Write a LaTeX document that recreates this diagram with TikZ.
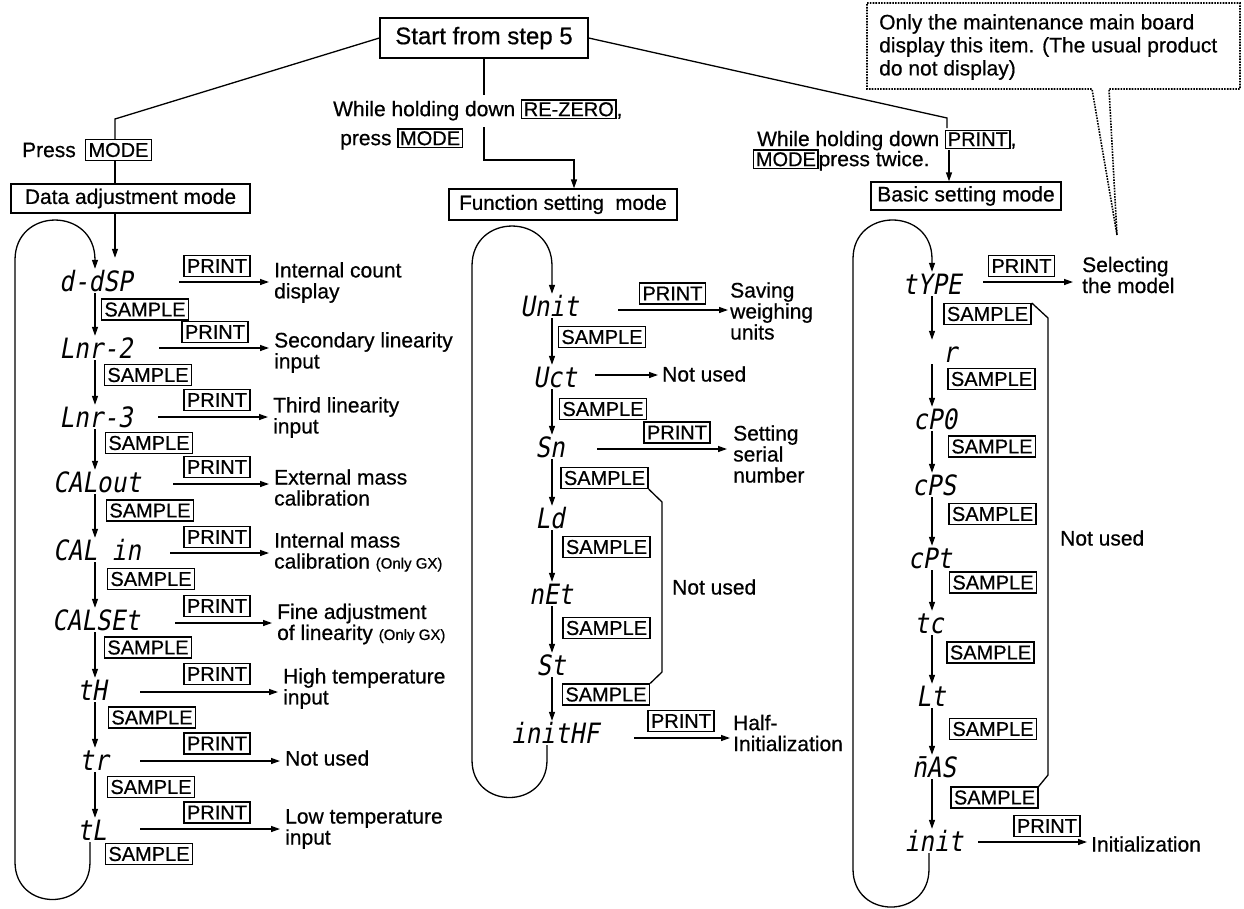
\documentclass[tikz,border=0pt]{standalone}
\usepackage{fontspec}
\setmainfont[FakeBold=0.6]{Liberation Sans}
\newfontfamily\segfont[FakeSlant=0.18,FakeStretch=0.87]{DejaVu Sans Mono}
\usetikzlibrary{arrows.meta}
\newcommand\kbox[1]{{\fboxsep=1.5pt\fboxrule=1.2pt\fbox{\fontsize{20}{20}\selectfont #1}}}
\begin{document}
\begin{tikzpicture}[x=1pt,y=-1pt,
  lab/.style={font=\fontsize{21}{21}\selectfont, inner sep=0pt, align=left, anchor=west},
  key/.style={draw, line width=1.2pt, font=\fontsize{20}{20}\selectfont, inner xsep=3pt, inner ysep=0pt, minimum height=21pt},
  modebox/.style={draw, line width=1.3pt, font=\fontsize{21}{21}\selectfont, inner sep=0pt},
  seg/.style={font=\segfont\fontsize{28}{28}\selectfont, inner xsep=0pt, inner ysep=2pt, text height=20pt, text depth=0pt},
  ln/.style={line width=1.3pt},
  arr/.style={line width=1.3pt, -{Triangle[length=9pt,width=6pt]}},
  small/.style={font=\fontsize{15}{15}\selectfont}]
\useasboundingbox (0,0) rectangle (1244,908);
\fill[white] (0,0) rectangle (1244,908);

% ---------- top part ----------
\node[modebox, font=\fontsize{24}{24}\selectfont, minimum width=208pt, minimum height=40pt] (start) at (484,38) {Start from step 5};

\node[lab, anchor=east] (press) at (76,150) {Press};
\node[key] (pm) at (118.5,150) {MODE};
\node[modebox, minimum width=239pt, minimum height=29pt] (dmode) at (130.5,198.5) {Data adjustment mode};

\node[lab] (mid1) at (333,110) {While holding down \kbox{RE-ZERO},};
\node[lab] (mid2) at (340,139) {press \kbox{MODE}};
\node[modebox, font=\fontsize{20.5}{21}\selectfont, minimum width=228pt, minimum height=31pt] (fmode) at (563,204.5) {Function setting\ \ mode};

\node[lab] (rt1) at (757,140) {While holding down \kbox{PRINT},};
\node[lab] (rt2) at (753,160) {\kbox{MODE}press twice.};
\node[modebox, minimum width=190pt, minimum height=28pt] (bmode) at (966,196) {Basic setting mode};

\coordinate (xa1) at (115,0);
\coordinate (xc1) at (95,0);
\coordinate (xl1r) at (90,0);
\coordinate (xf) at (574,0);
\coordinate (xc2) at (552,0);
\coordinate (xl2r) at (547,0);
\coordinate (xc3) at (932,0);
\coordinate (xl3r) at (929,0);
\coordinate (m1) at (484,95);
\coordinate (m2) at (484,127);
\coordinate (r1) at (947,128);
\coordinate (r2) at (949,150);

\draw[ln] (start.west) -- (115,119) -- (pm.north -| xa1);
\draw[ln] (pm.south -| xa1) -- (dmode.north -| xa1);
\draw[ln] (start.south -| m1) -- (m1);
\draw[arr] (m2) -- (484,160) -- (574,160) -- (fmode.north -| xf);
\draw[ln] (start.east) -- (947,118) -- (r1);
\draw[arr] (r2) -- (bmode.north -| r2);

% ---------- callout ----------
\draw[line width=1.6pt, dash pattern=on 1.6pt off 1.2pt] (1117,235) -- (1092,89) -- (867,89) -- (867,3) -- (1240,3) -- (1240,89) -- (1109,89) -- cycle;
\node[lab, anchor=north west, font=\fontsize{21}{23}\selectfont] (note) at (879,14) {Only the maintenance main board\\display this item. (The usual product\\do not display)};

% ---------- column 1 ----------
\node[seg] (dd) at (96,281) {d-dSP};
\node[seg] (n2) at (96,348) {Lnr-2};
\node[seg] (n3) at (96,417) {Lnr-3};
\node[seg] (co) at (97,482) {CALout};
\node[seg] (ci) at (97,550) {CAL in};
\node[seg] (cs) at (96,620) {CALSEt};
\node[seg] (th) at (92,690) {tH};
\node[seg] (tr) at (94,760) {tr};
\node[seg] (tl) at (92,830) {tL};

\node[key] (p11) at (217,266) {PRINT};
\node[key] (p12) at (215,332) {PRINT};
\node[key] (p13) at (217,400) {PRINT};
\node[key] (p14) at (217,467) {PRINT};
\node[key] (p15) at (217,537) {PRINT};
\node[key] (p16) at (217,606) {PRINT};
\node[key] (p17) at (217,674) {PRINT};
\node[key] (p18) at (217,743.5) {PRINT};
\node[key] (p19) at (217,812.5) {PRINT};

\node[key] (s11) at (145,309.5) {SAMPLE};
\node[key] (s12) at (148,375) {SAMPLE};
\node[key] (s13) at (149,443) {SAMPLE};
\node[key] (s14) at (150,510.5) {SAMPLE};
\node[key] (s15) at (151,579) {SAMPLE};
\node[key] (s16) at (148,647.5) {SAMPLE};
\node[key] (s17) at (152,717.5) {SAMPLE};
\node[key] (s18) at (151,787) {SAMPLE};
\node[key] (s19) at (149,854) {SAMPLE};

\node[lab] (l11) at (274,282.5) {Internal count\\display};
\node[lab] (l12) at (274,352.5) {Secondary linearity\\input};
\node[lab] (l13) at (273,417.5) {Third linearity\\input};
\node[lab] (l14) at (274,487.5) {External mass\\calibration};
\node[lab] (l15) at (274,552) {Internal mass\\calibration {\fontsize{15}{15}\selectfont (Only GX)}};
\node[lab] (l16) at (277,624) {Fine adjustment\\of linearity {\fontsize{15}{15}\selectfont (Only GX)}};
\node[lab] (l17) at (283,688.5) {High temperature\\input};
\node[lab] (l18) at (285,758) {Not used};
\node[lab] (l19) at (285,829) {Low temperature\\input};

\coordinate (a11) at (179,282);
\coordinate (a12) at (159,348);
\coordinate (a13) at (158,417);
\coordinate (a14) at (173,484);
\coordinate (a15) at (170,553);
\coordinate (a16) at (175,623);
\coordinate (a17) at (140,692);
\coordinate (a18) at (140,761);
\coordinate (a19) at (140,829);
\foreach \i in {11,...,19}{
  \draw[arr, shorten >=5pt] (a\i) -- (a\i -| l\i.west);
}

\draw[arr] (dd.south -| xc1) -- (n2.north -| xc1);
\draw[arr] (n2.south -| xc1) -- (n3.north -| xc1);
\draw[arr] (n3.south -| xc1) -- (co.north -| xc1);
\draw[arr] (co.south -| xc1) -- (ci.north -| xc1);
\draw[arr] (ci.south -| xc1) -- (cs.north -| xc1);
\draw[arr] (cs.south -| xc1) -- (th.north -| xc1);
\draw[arr] (th.south -| xc1) -- (tr.north -| xc1);
\draw[arr] (tr.south -| xc1) -- (tl.north -| xc1);
\draw[arr, shorten >=11pt] (dmode.south -| xa1) -- (dd.north -| xa1);
\draw[arr] (tl.south -| xl1r) -- (90,862) .. controls (90,912) and (15,912) .. (15,862)
  -- (15,260) .. controls (15,206.7) and (95,206.7) .. (95,260) -- (dd.north -| xc1);

% ---------- column 2 ----------
\node[seg] (unit) at (549.5,306) {Unit};
\node[seg] (uct) at (555,377) {Uct};
\node[seg] (sn) at (550,447) {Sn};
\node[seg] (ld) at (550,518) {Ld};
\node[seg] (net) at (551,594) {nEt};
\node[seg] (st) at (551,665) {St};
\node[seg] (ihf) at (555,733) {initHF};

\node[key] (p21) at (672.5,293.5) {PRINT};
\node[key] (p23) at (677,432.5) {PRINT};
\node[key] (p27) at (681,721) {PRINT};

\node[key] (s21) at (602,337) {SAMPLE};
\node[key] (s22) at (603,409) {SAMPLE};
\node[key] (s23) at (604.5,478) {SAMPLE};
\node[key] (s24) at (606.5,547) {SAMPLE};
\node[key] (s25) at (606.5,628) {SAMPLE};
\node[key] (s26) at (606,694.5) {SAMPLE};

\node[lab] (l21) at (730,311) {Saving\\weighing\\units};
\node[lab] (l22) at (662,374) {Not used};
\node[lab] (l23) at (733,454) {Setting\\serial\\number};
\node[lab] (l27) at (733,733) {Half-\\Initialization};
\node[lab] (l2n) at (672,587) {Not used};

\coordinate (a21) at (618,310);
\coordinate (a22) at (595,375);
\coordinate (a23) at (597,449);
\coordinate (a27) at (634,738);
\draw[arr, shorten >=2pt] (a21) -- (a21 -| l21.west);
\draw[arr, shorten >=4pt] (a22) -- (a22 -| l22.west);
\draw[arr, shorten >=6pt] (a23) -- (a23 -| l23.west);
\draw[arr, shorten >=3pt] (a27) -- (a27 -| l27.west);

\draw[arr] (unit.south -| xc2) -- (uct.north -| xc2);
\draw[arr] (uct.south -| xc2) -- (sn.north -| xc2);
\draw[arr] (sn.south -| xc2) -- (ld.north -| xc2);
\draw[arr] (ld.south -| xc2) -- (net.north -| xc2);
\draw[arr] (net.south -| xc2) -- (st.north -| xc2);
\draw[arr] (st.south -| xc2) -- (ihf.north -| xc2);
\draw[ln] (s23.south east) -- (662,502) -- (662,672) -- (s26.north east);
\draw[arr] (ihf.south -| xl2r) -- (547,760) .. controls (547,810) and (472,810) .. (472,760)
  -- (472,266) .. controls (472,212.7) and (552,212.7) .. (552,266) -- (unit.north -| xc2);

% ---------- column 3 ----------
\node[seg] (type) at (932,284) {tYPE};
\node[seg] (rr) at (950,352) {r};
\node[seg] (cp0) at (935,419) {cP0};
\node[seg] (cps) at (934,485) {cPS};
\node[seg] (cpt) at (930,558) {cPt};
\node[seg] (tc) at (929,623) {tc};
\node[seg] (lt) at (931,696) {Lt};
\node[seg] (mas) at (934,767) {\={n}AS};
\node[seg] (init) at (934,841) {init};

\node[key] (p31) at (1021.5,266) {PRINT};
\node[key] (p39) at (1047,826) {PRINT};

\node[key] (s31) at (987.5,314) {SAMPLE};
\node[key] (s32) at (991.5,379) {SAMPLE};
\node[key] (s33) at (992,446.5) {SAMPLE};
\node[key] (s34) at (992.5,514) {SAMPLE};
\node[key] (s35) at (993,582.5) {SAMPLE};
\node[key] (s36) at (990.5,652.5) {SAMPLE};
\node[key] (s37) at (993,729) {SAMPLE};
\node[key] (s38) at (994.5,797.5) {SAMPLE};

\node[lab] (l31) at (1082,275) {Selecting\\the model};
\node[lab] (l3n) at (1060,538) {Not used};
\node[lab] (l39) at (1091,844) {Initialization};

\coordinate (a31) at (983,282);
\coordinate (a39) at (978,842);
\draw[arr, shorten >=9pt] (a31) -- (a31 -| l31.west);
\draw[arr, shorten >=4pt] (a39) -- (a39 -| l39.west);

\draw[arr] (type.south -| xc3) -- (rr.north -| xc3);
\draw[arr] (rr.south -| xc3) -- (cp0.north -| xc3);
\draw[arr] (cp0.south -| xc3) -- (cps.north -| xc3);
\draw[arr] (cps.south -| xc3) -- (cpt.north -| xc3);
\draw[arr] (cpt.south -| xc3) -- (tc.north -| xc3);
\draw[arr] (tc.south -| xc3) -- (lt.north -| xc3);
\draw[arr] (lt.south -| xc3) -- (mas.north -| xc3);
\draw[arr] (mas.south -| xc3) -- (init.north -| xc3);
\draw[ln] (s31.north east) -- (1048,318) -- (1048,775) -- (s38.north east);
\draw[arr] (init.south -| xl3r) -- (929,869) .. controls (929,919.7) and (853,919.7) .. (853,869)
  -- (853,259) .. controls (853,207) and (932,207) .. (932,259) -- (type.north -| xc3);
\end{tikzpicture}
\end{document}
